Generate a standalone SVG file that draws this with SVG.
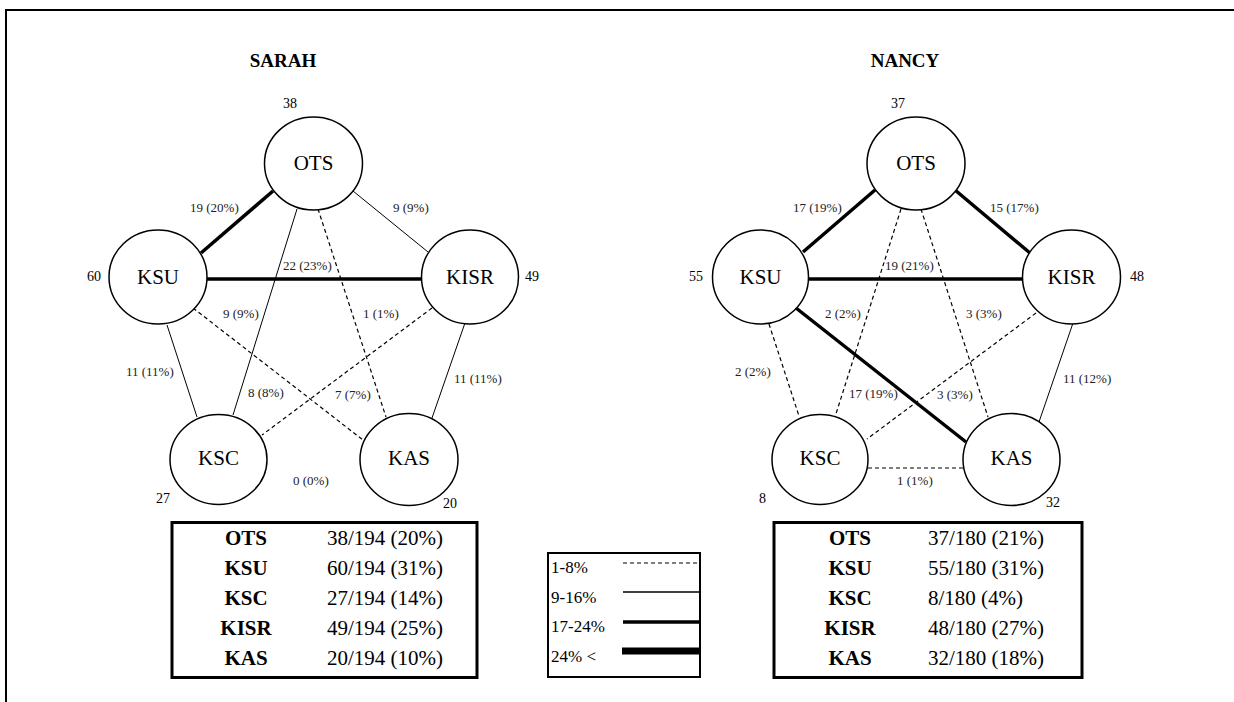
<svg xmlns="http://www.w3.org/2000/svg" width="1234" height="702" viewBox="0 0 1234 702" font-family="'Liberation Serif', 'Times New Roman', 'DejaVu Serif', serif">
<style>
text{font-family:'Liberation Serif','Times New Roman','DejaVu Serif',serif;fill:#000}
.node ellipse{fill:#fff;stroke:#000;stroke-width:1.5}
.nl{font-size:21px;text-anchor:middle}
.cnt{font-size:14px}
.el{font-size:13px;fill:#222}
.title{font-size:19px;font-weight:bold;text-anchor:middle}
.d{stroke:#000;stroke-width:1.2;stroke-dasharray:4 3;fill:none}
.s{stroke:#000;stroke-width:1;fill:none}
.t{stroke:#000;stroke-width:3.5;fill:none}
.tb{fill:none;stroke:#000;stroke-width:3}
.th{font-size:21px;font-weight:bold;text-anchor:middle}
.tv{font-size:21px}
.lg{font-size:17px}
</style>
<rect width="1234" height="702" fill="#fff"/>
<g id="frame">
<line x1="5" y1="10" x2="1234" y2="10" stroke="#000" stroke-width="2"/>
<line x1="6" y1="9" x2="6" y2="702" stroke="#000" stroke-width="2"/>
</g>
<text class="title" x="283" y="67">SARAH</text>
<text class="title" x="905" y="67">NANCY</text>
<g id="connectors">
<line class="t" x1="273" y1="191" x2="201" y2="253"/>
<line class="s" x1="353" y1="191" x2="428" y2="252"/>
<line class="t" x1="207" y1="279" x2="422" y2="279"/>
<line class="s" x1="297" y1="209" x2="233" y2="415"/>
<line class="d" x1="318" y1="209" x2="386" y2="417"/>
<line class="d" x1="193" y1="308" x2="363" y2="440"/>
<line class="d" x1="432" y1="308" x2="262" y2="435"/>
<line class="s" x1="167" y1="325" x2="197" y2="417"/>
<line class="s" x1="466" y1="320" x2="432" y2="418"/>
<line class="t" x1="875" y1="190" x2="803" y2="252"/>
<line class="t" x1="955" y1="190" x2="1030" y2="253"/>
<line class="t" x1="808" y1="279" x2="1022" y2="279"/>
<line class="d" x1="901" y1="209" x2="835" y2="417"/>
<line class="d" x1="921" y1="209" x2="988" y2="417"/>
<line class="t" x1="796" y1="308" x2="966" y2="442"/>
<line class="d" x1="1036" y1="313" x2="867" y2="439"/>
<line class="d" x1="769" y1="324" x2="799" y2="416"/>
<line class="s" x1="1073" y1="323" x2="1039" y2="422"/>
<line class="d" x1="868" y1="468" x2="963" y2="468"/>
</g>
<g id="edge-labels">
<text class="el" x="190" y="212">19 (20%)</text>
<text class="el" x="393" y="212">9 (9%)</text>
<text class="el" x="283" y="270">22 (23%)</text>
<text class="el" x="248" y="397">8 (8%)</text>
<text class="el" x="363" y="318">1 (1%)</text>
<text class="el" x="223" y="318">9 (9%)</text>
<text class="el" x="335" y="399">7 (7%)</text>
<text class="el" x="126" y="376">11 (11%)</text>
<text class="el" x="454" y="383">11 (11%)</text>
<text class="el" x="293" y="485">0 (0%)</text>
<text class="el" x="793" y="212">17 (19%)</text>
<text class="el" x="990" y="212">15 (17%)</text>
<text class="el" x="885" y="270">19 (21%)</text>
<text class="el" x="825" y="318">2 (2%)</text>
<text class="el" x="966" y="318">3 (3%)</text>
<text class="el" x="849" y="398">17 (19%)</text>
<text class="el" x="937" y="399">3 (3%)</text>
<text class="el" x="735" y="376">2 (2%)</text>
<text class="el" x="1063" y="383">11 (12%)</text>
<text class="el" x="897" y="485">1 (1%)</text>
</g>
<g id="sarah-ots" class="node"><ellipse cx="313.5" cy="163.5" rx="49" ry="46.5"/><text class="nl" x="313.5" y="170">OTS</text><text class="cnt" x="283" y="108">38</text></g>
<g id="sarah-ksu" class="node"><ellipse cx="158" cy="277" rx="49" ry="47"/><text class="nl" x="158" y="284">KSU</text><text class="cnt" x="87" y="281">60</text></g>
<g id="sarah-kisr" class="node"><ellipse cx="470" cy="277" rx="48.5" ry="47"/><text class="nl" x="470" y="284">KISR</text><text class="cnt" x="525" y="281">49</text></g>
<g id="sarah-ksc" class="node"><ellipse cx="218.5" cy="459.5" rx="48.5" ry="45"/><text class="nl" x="218.5" y="465">KSC</text><text class="cnt" x="156" y="503">27</text></g>
<g id="sarah-kas" class="node"><ellipse cx="409" cy="459.5" rx="49" ry="46"/><text class="nl" x="409" y="465">KAS</text><text class="cnt" x="443" y="508">20</text></g>
<g id="nancy-ots" class="node"><ellipse cx="916" cy="163.5" rx="49" ry="46.5"/><text class="nl" x="916" y="170">OTS</text><text class="cnt" x="891" y="108">37</text></g>
<g id="nancy-ksu" class="node"><ellipse cx="760.5" cy="277" rx="48" ry="47"/><text class="nl" x="760.5" y="284">KSU</text><text class="cnt" x="689" y="281">55</text></g>
<g id="nancy-kisr" class="node"><ellipse cx="1071.5" cy="277" rx="49" ry="47"/><text class="nl" x="1071.5" y="284">KISR</text><text class="cnt" x="1130" y="281">48</text></g>
<g id="nancy-ksc" class="node"><ellipse cx="820" cy="459.5" rx="48" ry="45"/><text class="nl" x="820" y="465">KSC</text><text class="cnt" x="759" y="503">8</text></g>
<g id="nancy-kas" class="node"><ellipse cx="1011.5" cy="459.5" rx="48.5" ry="46"/><text class="nl" x="1011.5" y="465">KAS</text><text class="cnt" x="1046" y="507">32</text></g>
<g id="table-sarah">
<rect class="tb" x="172" y="522.5" width="305" height="155"/>
<text class="th" x="246" y="545">OTS</text><text class="tv" x="327" y="545">38/194 (20%)</text>
<text class="th" x="246" y="575">KSU</text><text class="tv" x="327" y="575">60/194 (31%)</text>
<text class="th" x="246" y="605">KSC</text><text class="tv" x="327" y="605">27/194 (14%)</text>
<text class="th" x="246" y="635">KISR</text><text class="tv" x="327" y="635">49/194 (25%)</text>
<text class="th" x="246" y="665">KAS</text><text class="tv" x="327" y="665">20/194 (10%)</text>
</g>
<g id="legend">
<rect x="548" y="553" width="152" height="124" fill="none" stroke="#000" stroke-width="2"/>
<text class="lg" x="551" y="573">1-8%</text>
<text class="lg" x="551" y="603">9-16%</text>
<text class="lg" x="551" y="632">17-24%</text>
<text class="lg" x="551" y="662">24% &lt;</text>
<line class="d" x1="623" y1="563" x2="699" y2="563"/>
<line x1="623" y1="592" x2="699" y2="592" stroke="#000" stroke-width="1.5"/>
<line x1="623" y1="622" x2="699" y2="622" stroke="#000" stroke-width="3.5"/>
<line x1="622" y1="651" x2="699" y2="651" stroke="#000" stroke-width="7"/>
</g>
<g id="table-nancy">
<rect class="tb" x="774" y="522.5" width="308" height="155"/>
<text class="th" x="850" y="545">OTS</text><text class="tv" x="928" y="545">37/180 (21%)</text>
<text class="th" x="850" y="575">KSU</text><text class="tv" x="928" y="575">55/180 (31%)</text>
<text class="th" x="850" y="605">KSC</text><text class="tv" x="928" y="605">8/180 (4%)</text>
<text class="th" x="850" y="635">KISR</text><text class="tv" x="928" y="635">48/180 (27%)</text>
<text class="th" x="850" y="665">KAS</text><text class="tv" x="928" y="665">32/180 (18%)</text>
</g>
</svg>
